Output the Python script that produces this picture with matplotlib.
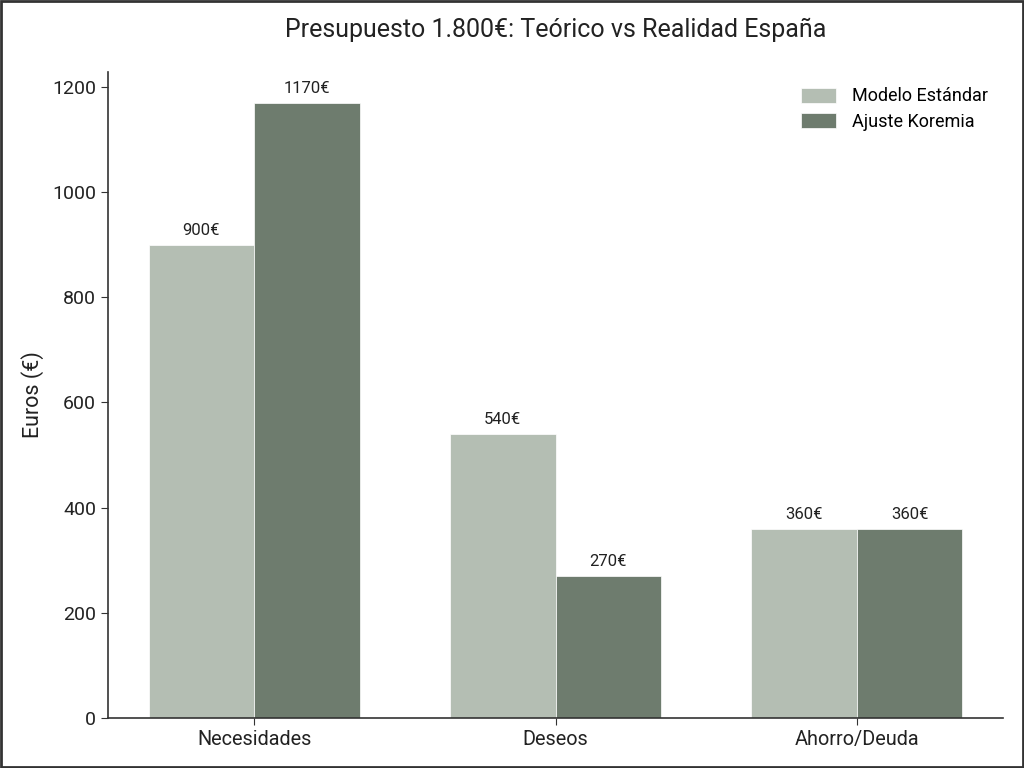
import matplotlib
matplotlib.use("Agg")
import matplotlib.pyplot as plt
import numpy as np

categories = ["Necesidades", "Deseos", "Ahorro/Deuda"]
estandar = [900, 540, 360]
koremia = [1170, 270, 360]
series_names = ["Modelo Estándar", "Ajuste Koremia"]

plt.rcParams['font.family'] = ['Roboto', 'DejaVu Sans']

fig = plt.figure(figsize=(10.24, 7.68), dpi=100)
ax = fig.add_axes([108/1024, 1-718/768, (1003-108)/1024, (718-72)/768])

x = np.arange(len(categories))
w = 0.35
c1 = "#b4beb3"
c2 = "#6e7c6e"
b1 = ax.bar(x - w/2, estandar, w, color=c1, label=series_names[0], edgecolor="white", linewidth=0.5)
b2 = ax.bar(x + w/2, koremia, w, color=c2, label=series_names[1], edgecolor="white", linewidth=0.5)

for bars in (b1, b2):
    for r in bars:
        ax.annotate(f"{int(r.get_height())}€", (r.get_x() + r.get_width()/2, r.get_height()),
                    xytext=(0, 5), textcoords="offset points", ha="center", va="bottom",
                    fontsize=12, color="#222222")

ax.set_xticks(x)
ax.set_xticklabels(categories, fontsize=14.3)
ax.tick_params(axis='y', labelsize=14)
ax.tick_params(colors="#333333", length=5)
for t in ax.get_xticklabels() + ax.get_yticklabels():
    t.set_color("#222222")
ax.set_ylabel("Euros (€)", fontsize=15.5, color="#222222", labelpad=6)
ax.set_title("Presupuesto 1.800€: Teórico vs Realidad España", fontsize=18, pad=25, color="#222222")
ax.set_ylim(0, 1228.5)
for s in ("top", "right"):
    ax.spines[s].set_visible(False)
for s in ("left", "bottom"):
    ax.spines[s].set_color("#333333")
    ax.spines[s].set_linewidth(1.2)

ax.legend(frameon=False, fontsize=13, loc="upper right", handlelength=1.95, handleheight=0.9,
          handletextpad=0.85, labelspacing=0.42, borderaxespad=0.45)

fig.patches.append(plt.Rectangle((0.001, 0.001), 0.998, 0.998, transform=fig.transFigure,
                                 fill=False, edgecolor="#333333", linewidth=2))
fig.savefig("out.png", dpi=100)
